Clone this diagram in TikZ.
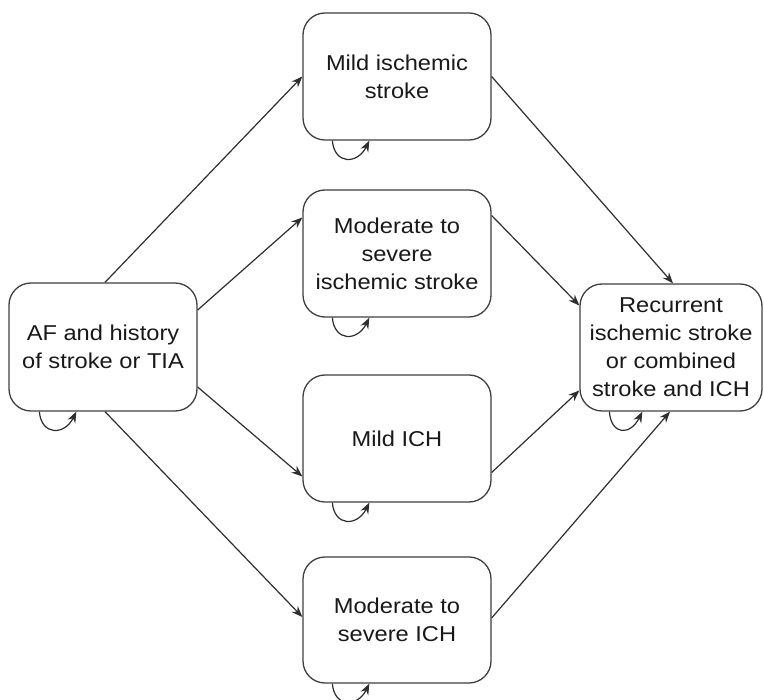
\documentclass[tikz,border=0pt]{standalone}
\usepackage{fontspec}
\setmainfont{Liberation Sans}[FakeStretch=1.1]
\usetikzlibrary{arrows.meta,calc}
\begin{document}
\begin{tikzpicture}[x=1pt,y=-1pt,
  box/.style={draw=black!75,line width=1.3pt,rounded corners=22pt,fill=white,
    inner sep=0pt,align=center,text=black!90,
    font=\fontsize{21.5}{28}\selectfont},
  conn/.style={draw=black!82,line width=1.2pt,-{Stealth[length=11pt,width=8.5pt]}},
]
\useasboundingbox (0,0) rectangle (764,700);
\node[box,minimum width=188pt,minimum height=128pt] (af) at (103,347) {AF and history\\of stroke or TIA};
\node[box,minimum width=188pt,minimum height=127pt] (m1) at (397,76.5) {Mild ischemic\\stroke};
\node[box,minimum width=188pt,minimum height=127pt] (m2) at (397,253.5) {Moderate to\\severe\\ischemic stroke};
\node[box,minimum width=188pt,minimum height=127pt] (m3) at (397,438.5) {Mild ICH};
\node[box,minimum width=188pt,minimum height=126pt] (m4) at (397,620) {Moderate to\\severe ICH};
\node[box,minimum width=182pt,minimum height=127pt] (rec) at (671,347.5) {Recurrent\\ischemic stroke\\or combined\\stroke and ICH};

\draw[conn] ([xshift=2pt]af.north) -- (m1.west);
\draw[conn] ([yshift=37pt]af.east) -- ([yshift=36pt]m2.west);
\draw[conn] ([yshift=-40pt]af.east) -- ([yshift=-38pt]m3.west);
\draw[conn] ([xshift=2pt]af.south) -- ([yshift=3pt]m4.west);

\draw[conn] (m1.east) -- ([xshift=2pt]rec.north);
\draw[conn] ([yshift=38pt]m2.east) -- ([yshift=42pt]rec.west);
\draw[conn] ([yshift=-34pt]m3.east) -- ([yshift=-43pt]rec.west);
\draw[conn] ([yshift=2pt]m4.east) -- ([xshift=-1pt]rec.south);

\foreach \n/\a/\b in {af/31/68,m1/30/67,m2/30/67,m3/30/67,m4/30/67,rec/30/63}{
  \draw[conn] ([xshift=\a pt]\n.south west) .. controls +(2,24) and +(-12,24) .. ([xshift=\b pt]\n.south west);
}
\end{tikzpicture}
\end{document}
